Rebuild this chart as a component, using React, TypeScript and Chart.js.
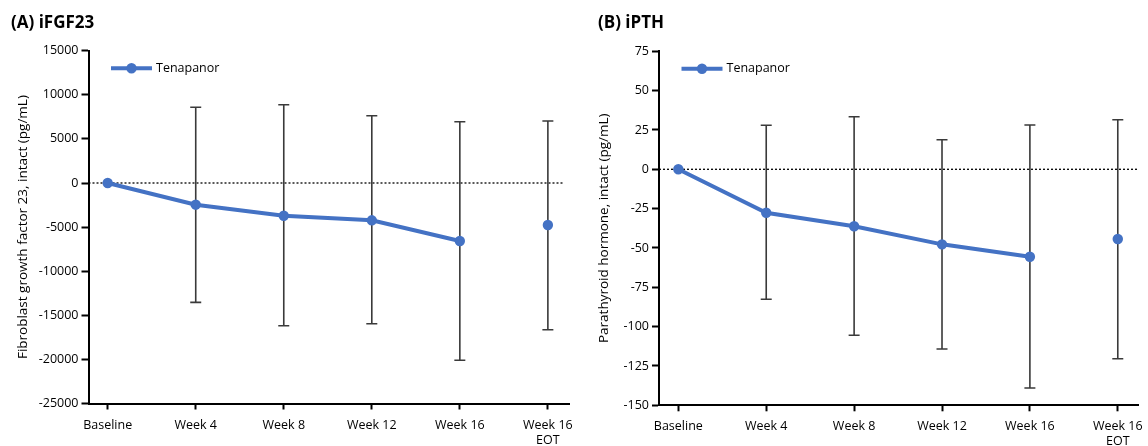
import React, { useEffect, useRef } from "react";
import { Chart, registerables } from "chart.js";

Chart.register(...registerables);

const categories: (string | string[])[] = ["Baseline", "Week 4", "Week 8", "Week 12", "Week 16", ["Week 16", "EOT"]];
const xTickValues = [0, 1, 2, 3, 4, 5];

const fgfMean = [0, -2460, -3710, -4230, -6580, -4760];
const fgfUpper = [null, 8580, 8880, 7630, 6950, 7030];
const fgfLower = [null, -13530, -16180, -15950, -20100, -16630];

const pthMean = [0, -27.6, -36.2, -47.7, -55.6, -44.3];
const pthUpper = [null, 28.0, 33.4, 18.8, 28.2, 31.5];
const pthLower = [null, -82.6, -105.5, -114.2, -139, -120.4];

const fgfTicks = { min: -25000, max: 15000, step: 5000 };
const pthTicks = { min: -150, max: 75, step: 25 };

const seriesName = "Tenapanor";
const BLUE = "#4472C4";
const FONT = "'Open Sans', sans-serif";
const W = 574;
const H = 446;

type PanelCfg = {
  left: number;
  chartLeft: number;
  chartRight: number;
  chartTop: number;
  chartBottom: number;
  xMin: number;
  xMax: number;
  zeroEnd: number;
  title: string;
  titleX: number;
  yTitle: string;
  yTitleX: number;
  mean: number[];
  upper: (number | null)[];
  lower: (number | null)[];
  ticks: { min: number; max: number; step: number };
};

const panels: PanelCfg[] = [
  {
    left: 0, chartLeft: 88.5, chartRight: 569, chartTop: 50.7, chartBottom: 403.5,
    xMin: -0.218, xMax: 5.24, zeroEnd: 5.17,
    title: "(A) iFGF23", titleX: 11,
    yTitle: "Fibroblast growth factor 23, intact (pg/mL)", yTitleX: 23,
    mean: fgfMean, upper: fgfUpper, lower: fgfLower, ticks: fgfTicks,
  },
  {
    left: 574, chartLeft: 85, chartRight: 564, chartTop: 51.3, chartBottom: 405.3,
    xMin: -0.22, xMax: 5.23, zeroEnd: 5.22,
    title: "(B) iPTH", titleX: 24,
    yTitle: "Parathyroid hormone, intact (pg/mL)", yTitleX: 30,
    mean: pthMean, upper: pthUpper, lower: pthLower, ticks: pthTicks,
  },
];

function Panel({ cfg }: { cfg: PanelCfg }) {
  const ref = useRef<HTMLCanvasElement | null>(null);
  useEffect(() => {
    if (!ref.current) return;
    const lineIdx = [0, 1, 2, 3, 4];
    const lineData = lineIdx.map((i) => ({ x: i, y: cfg.mean[i] }));
    const eotData = [{ x: 5, y: cfg.mean[5] }];

    const decor = {
      id: "decor",
      beforeDatasetsDraw(chart: any) {
        const { ctx, chartArea } = chart;
        const xs = chart.scales.x;
        const ys = chart.scales.y;
        ctx.save();
        ctx.strokeStyle = "#000";
        ctx.lineWidth = 1.3;
        ctx.setLineDash([2, 2]);
        ctx.beginPath();
        const y0 = ys.getPixelForValue(0);
        ctx.moveTo(chartArea.left, y0);
        ctx.lineTo(xs.getPixelForValue(cfg.zeroEnd), y0);
        ctx.stroke();
        ctx.setLineDash([]);
        ctx.strokeStyle = "#3a3a3a";
        ctx.lineWidth = 1.6;
        for (let i = 0; i < cfg.mean.length; i++) {
          const u = cfg.upper[i];
          const l = cfg.lower[i];
          if (u == null || l == null) continue;
          const px = xs.getPixelForValue(i);
          const pu = ys.getPixelForValue(u);
          const pl = ys.getPixelForValue(l);
          ctx.beginPath();
          ctx.moveTo(px, pu);
          ctx.lineTo(px, pl);
          ctx.moveTo(px - 5.5, pu);
          ctx.lineTo(px + 5.5, pu);
          ctx.moveTo(px - 5.5, pl);
          ctx.lineTo(px + 5.5, pl);
          ctx.stroke();
        }
        ctx.restore();
      },
      afterDraw(chart: any) {
        const { ctx, chartArea } = chart;
        ctx.save();
        ctx.fillStyle = "#000";
        ctx.font = `bold 17px ${FONT}`;
        ctx.textBaseline = "alphabetic";
        ctx.textAlign = "left";
        ctx.fillText(cfg.title, cfg.titleX, 28);
        ctx.font = `13.5px ${FONT}`;
        ctx.textAlign = "center";
        ctx.textBaseline = "middle";
        ctx.translate(cfg.yTitleX, (chartArea.top + chartArea.bottom) / 2);
        ctx.rotate(-Math.PI / 2);
        ctx.fillText(cfg.yTitle, 0, 0);
        ctx.restore();
        ctx.save();
        const ly = chartArea.top + 17.5;
        const lx = chartArea.left + 22.5;
        ctx.strokeStyle = BLUE;
        ctx.lineWidth = 4;
        ctx.beginPath();
        ctx.moveTo(lx, ly);
        ctx.lineTo(lx + 41, ly);
        ctx.stroke();
        ctx.fillStyle = BLUE;
        ctx.beginPath();
        ctx.arc(lx + 20.5, ly, 5.2, 0, Math.PI * 2);
        ctx.fill();
        ctx.fillStyle = "#000";
        ctx.font = `12.5px ${FONT}`;
        ctx.textAlign = "left";
        ctx.textBaseline = "middle";
        ctx.fillText(seriesName, lx + 45, ly);
        ctx.restore();
      },
    };

    const chart = new Chart(ref.current, {
      type: "line",
      data: {
        datasets: [
          {
            label: seriesName,
            data: lineData,
            borderColor: BLUE,
            backgroundColor: BLUE,
            borderWidth: 4,
            pointRadius: 5.2,
            pointBackgroundColor: BLUE,
            pointBorderWidth: 0,
            tension: 0,
          },
          {
            label: seriesName + " EOT",
            data: eotData,
            showLine: false,
            borderColor: BLUE,
            backgroundColor: BLUE,
            pointRadius: 5.2,
            pointBackgroundColor: BLUE,
            pointBorderWidth: 0,
          },
        ],
      },
      options: {
        animation: false,
        responsive: false,
        maintainAspectRatio: false,
        layout: {
          autoPadding: false,
          padding: { top: cfg.chartTop, right: W - cfg.chartRight, left: 0, bottom: 0 },
        },
        plugins: {
          legend: { display: false },
          title: { display: false },
          tooltip: { enabled: false },
        },
        scales: {
          x: {
            type: "linear",
            min: cfg.xMin,
            max: cfg.xMax,
            afterFit: (scale: any) => {
              scale.height = H - cfg.chartBottom;
              scale.paddingLeft = 0;
              scale.paddingRight = 0;
            },
            afterBuildTicks: (scale: any) => {
              scale.ticks = xTickValues.map((v) => ({ value: v }));
            },
            ticks: {
              autoSkip: false,
              maxRotation: 0,
              minRotation: 0,
              color: "#000",
              padding: 8,
              font: { family: FONT, size: 12.5, lineHeight: 1.2 },
              callback: (v: any) => categories[Number(v)] as any,
            },
            grid: {
              drawOnChartArea: false,
              drawTicks: true,
              tickLength: 6,
              tickWidth: 2,
              tickColor: "#000",
            },
            border: { display: true, color: "#000", width: 2 },
          },
          y: {
            type: "linear",
            min: cfg.ticks.min,
            max: cfg.ticks.max,
            afterFit: (scale: any) => {
              scale.width = cfg.chartLeft;
              scale.paddingTop = 0;
              scale.paddingBottom = 0;
            },
            ticks: {
              stepSize: cfg.ticks.step,
              color: "#000",
              padding: 3,
              font: { family: FONT, size: 12.5 },
              callback: (v: any) => String(v),
            },
            grid: {
              drawOnChartArea: false,
              drawTicks: true,
              tickLength: 7,
              tickWidth: 2,
              tickColor: "#000",
            },
            border: { display: true, color: "#000", width: 2 },
          },
        },
      },
      plugins: [decor],
    } as any);
    return () => chart.destroy();
  }, [cfg]);

  return (
    <div style={{ position: "absolute", left: cfg.left, top: 0, width: W, height: H }}>
      <canvas ref={ref} width={W} height={H} style={{ width: W, height: H, display: "block" }} />
    </div>
  );
}

export default function App() {
  return (
    <div style={{ position: "fixed", left: 0, top: 0, width: 1148, height: 446, background: "#fff" }}>
      {panels.map((p, i) => (
        <Panel key={i} cfg={p} />
      ))}
    </div>
  );
}
